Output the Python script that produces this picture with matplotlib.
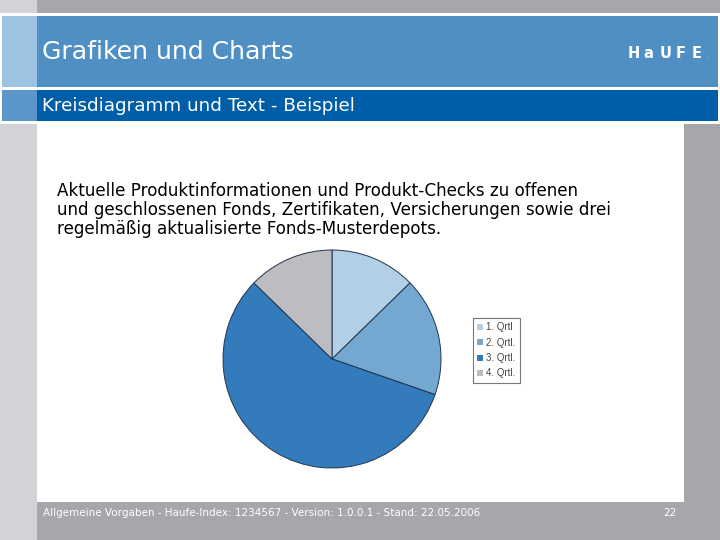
import matplotlib
matplotlib.use("Agg")
import matplotlib.pyplot as plt
from matplotlib.patches import Rectangle, Patch

# ---- data ----
categories = ["1. Qrtl", "2. Qrtl.", "3. Qrtl.", "4. Qrtl."]
values = [12.7, 17.6, 57.0, 12.7]
colors = ["#b3cfe5", "#74a8d1", "#347bbb", "#bcbcc1"]

title = "Grafiken und Charts"
subtitle = "Kreisdiagramm und Text - Beispiel"
body = ("Aktuelle Produktinformationen und Produkt-Checks zu offenen\n"
        "und geschlossenen Fonds, Zertifikaten, Versicherungen sowie drei\n"
        "regelmäßig aktualisierte Fonds-Musterdepots.")
footer = "Allgemeine Vorgaben - Haufe-Index: 1234567 - Version: 1.0.0.1 - Stand: 22.05.2006"
page = "22"

W, H = 720, 540
fig = plt.figure(figsize=(7.2, 5.4), dpi=100)
bg = fig.add_axes([0, 0, 1, 1])
bg.set_xlim(0, W)
bg.set_ylim(H, 0)
bg.axis("off")

def rect(x0, y0, x1, y1, c):
    bg.add_patch(Rectangle((x0, y0), x1 - x0, y1 - y0, facecolor=c, edgecolor="none"))

rect(0, 0, W, H, "white")
# top gray band
rect(0, 0, 37, 13, "#d2d2d7")
rect(37, 0, W, 13, "#a6a6ab")
# header band
rect(2, 16, 37, 87, "#9ec2e1")
rect(37, 16, 718, 87, "#4f8fc4")
# subtitle band
rect(2, 90, 37, 121, "#5b95c9")
rect(37, 90, 718, 121, "#005ea8")
# side strips
rect(0, 124, 37, H, "#d2d2d7")
rect(684, 124, W, H, "#a6a6ab")
# footer
rect(37, 502, W, H, "#a6a6ab")

bg.text(42, 52, title, color="white", fontsize=18.1, va="center", ha="left",
        family="DejaVu Sans")
bg.text(42, 106, subtitle, color="white", fontsize=13.2, va="center", ha="left",
        family="DejaVu Sans")
bg.text(57, 182, body, color="black", fontsize=12.1, va="top", ha="left",
        family="DejaVu Sans", linespacing=1.06)
bg.text(43, 513, footer, color="white", fontsize=7.5, va="center", ha="left",
        family="DejaVu Sans")
bg.text(677, 513, page, color="white", fontsize=7.5, va="center", ha="right",
        family="DejaVu Sans")

# logo
for i, ch in enumerate("HaUFE"):
    bg.text(628 + i * 15.8, 53, ch, color="white", fontsize=10.5, fontweight="bold",
            va="center", ha="left", family="DejaVu Sans")
bg.text(706, 55, ".", color="#9ec2e1", fontsize=8, va="center", ha="left")

# pie
cx, cy, r = 332, 359, 109
half = 115
pax = fig.add_axes([(cx - half) / W, (H - cy - half) / H, 2 * half / W, 2 * half / H])
wedges, _ = pax.pie(values, colors=colors, startangle=90, counterclock=False,
                    radius=1.0,
                    wedgeprops=dict(edgecolor="#1f3550", linewidth=0.7))
lim = half / r
pax.set_xlim(-lim, lim)
pax.set_ylim(-lim, lim)
pax.axis("off")

handles = [Patch(facecolor=c, edgecolor="none") for c in colors]
leg = fig.legend(handles, categories, loc="upper left",
                 bbox_to_anchor=(473 / W, 1 - 318 / H),
                 frameon=True, fancybox=False,
                 handlelength=0.6, handleheight=0.6, handletextpad=0.3,
                 labelspacing=0.55, borderpad=0.45, borderaxespad=0,
                 prop=dict(family="Liberation Sans", size=7))
leg.get_frame().set_edgecolor("#555555")
leg.get_frame().set_linewidth(0.8)
for t in leg.get_texts():
    t.set_color("#444444")

fig.savefig("out.png", dpi=100)
